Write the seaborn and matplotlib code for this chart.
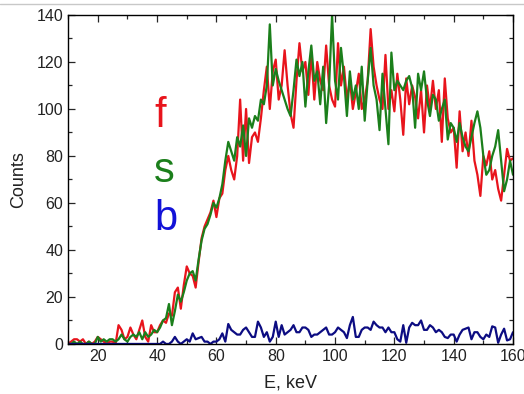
import numpy as np
import pandas as pd
import matplotlib
matplotlib.use("Agg")
import matplotlib.pyplot as plt
from matplotlib.ticker import MultipleLocator
from matplotlib.lines import Line2D
import seaborn as sns

# Energy grid, keV
energy = list(range(10, 161))

# f spectrum (counts)
counts_f = [
    0, 1, 2, 2, 1, 2, 0, 1, 0, 1,            # 10-19
    3, 2, 1, 0, 1, 1, 0, 8, 6, 2,            # 20-29
    3, 7, 4, 2, 6, 10, 3, 1, 8, 5,           # 30-39
    5, 8, 10, 9, 13, 12, 22, 24, 15, 25,     # 40-49
    33, 30, 29, 24, 35, 45, 50, 53, 56, 61,  # 50-59
    54, 62, 64, 74, 80, 74, 70, 80, 104, 78,  # 60-69
    100, 77, 88, 90, 86, 96, 108, 118, 100, 116,  # 70-79
    121, 104, 110, 125, 110, 98, 92, 112, 128, 116,  # 80-89
    120, 106, 124, 104, 120, 112, 108, 127, 110, 104,  # 90-99
    101, 128, 110, 118, 104, 112, 100, 107, 115, 100,  # 100-109
    104, 112, 134, 118, 110, 104, 100, 123, 100, 108,  # 110-119
    99, 115, 104, 89, 113, 102, 110, 105, 96, 108,  # 120-129
    90, 110, 100, 112, 100, 108, 86, 113, 96, 90,  # 130-139
    92, 75, 99, 82, 90, 80, 95, 78, 72, 63,  # 140-149
    80, 76, 82, 70, 74, 66, 61, 72, 83, 78,  # 150-159
    79,                                      # 160
]

# s spectrum (counts)
counts_s = [
    0, 0, 1, 0, 1, 0, 0, 1, 0, 0,            # 10-19
    3, 1, 2, 1, 2, 2, 1, 2, 4, 2,            # 20-29
    1, 3, 4, 3, 5, 2, 5, 3, 4, 6,            # 30-39
    5, 7, 10, 11, 17, 8, 14, 21, 18, 22,     # 40-49
    27, 30, 31, 27, 36, 44, 49, 51, 55, 60,  # 50-59
    58, 62, 68, 78, 86, 82, 78, 88, 84, 93,  # 60-69
    80, 96, 92, 97, 95, 104, 102, 110, 136, 110,  # 70-79
    117, 112, 108, 104, 100, 97, 108, 121, 114, 120,  # 80-89
    101, 116, 127, 112, 116, 102, 118, 94, 110, 140,  # 90-99
    112, 104, 126, 114, 97, 116, 104, 110, 100, 118,  # 100-109
    95, 112, 126, 110, 104, 91, 115, 100, 85, 124,  # 110-119
    108, 112, 110, 108, 112, 114, 109, 92, 115, 108,  # 120-129
    116, 104, 97, 106, 104, 95, 100, 104, 87, 94,  # 130-139
    92, 86, 94, 88, 84, 82, 88, 94, 99, 92,  # 140-149
    80, 72, 74, 80, 84, 91, 78, 65, 70, 78,  # 150-159
    72,                                      # 160
]

# b spectrum (counts)
counts_b = [
    0, 0, 0, 0, 0, 0, 0, 0, 0, 0,            # 10-19
    0, 0, 0, 0, 0, 0, 0, 0, 0, 0,            # 20-29
    0, 0, 0, 0, 0, 0, 0, 0, 0, 0,            # 30-39
    0, 0, 1, 0, 0, 1, 3, 1, 0, 1,            # 40-49
    2, 1, 4.5, 2, 2.5, 3, 1, 1, 0, 1,        # 50-59
    1, 2, 4.5, 1, 8.5, 6, 5, 4, 4, 6,        # 60-69
    7, 5, 3, 3, 9.5, 7, 3, 5, 1, 3,          # 70-79
    9.5, 3, 8, 4, 5, 6, 8, 5, 5, 7,          # 80-89
    7, 6, 3, 4, 4, 5, 6, 7, 4, 4,            # 90-99
    5, 7, 6, 5, 2.5, 8, 11.5, 3, 3, 6,       # 100-109
    7, 7, 6, 9.5, 8, 7, 7, 5, 7, 5,          # 110-119
    5, 2, 1, 8, 0.5, 7, 9, 8, 8, 10,         # 120-129
    6, 6, 8, 7, 5, 6, 5, 3, 2.5, 4,          # 130-139
    4, 1, 4, 6, 6.5, 7, 2, 5, 5, 3,          # 140-149
    2, 4, 3, 7.5, 7, 0.5, 4, 6.5, 1.5, 2,    # 150-159
    5,                                       # 160
]

series_names = ["f", "s", "b"]
line_colors = {"f": "#e8141c", "s": "#1b7f1b", "b": "#0c0c82"}
label_colors = {"f": "#e8141c", "s": "#1b7f1b", "b": "#1212d8"}

df = pd.concat([
    pd.DataFrame({"E": energy, "Counts": counts_f, "spectrum": "f"}),
    pd.DataFrame({"E": energy, "Counts": counts_s, "spectrum": "s"}),
    pd.DataFrame({"E": energy, "Counts": counts_b, "spectrum": "b"}),
], ignore_index=True)

sns.set_style("ticks")
plt.rcParams["font.family"] = ["Liberation Sans", "DejaVu Sans"]

fig = plt.figure(figsize=(5.24, 3.94), dpi=100)
ax = fig.add_axes([0.130, 0.127, 0.849, 0.835])

sns.lineplot(data=df, x="E", y="Counts", hue="spectrum", hue_order=series_names,
             palette=line_colors, linewidth=1.6, legend=False, ax=ax,
             estimator=None, sort=False)

ax.set_xlim(10, 160)
ax.set_ylim(0, 140)
ax.xaxis.set_major_locator(MultipleLocator(20))
ax.xaxis.set_minor_locator(MultipleLocator(10))
ax.yaxis.set_major_locator(MultipleLocator(20))
ax.yaxis.set_minor_locator(MultipleLocator(10))
ax.tick_params(which="both", direction="in", top=True, right=True,
               labelsize=11.5, labelcolor="#222222", width=0.9)
ax.tick_params(which="major", length=5)
ax.tick_params(which="minor", length=3)
for sp in ax.spines.values():
    sp.set_visible(True)
    sp.set_linewidth(1.0)
    sp.set_color("black")

ax.set_xlabel("E, keV", fontsize=13, color="#222222", labelpad=8)
ax.set_ylabel("Counts", fontsize=13, color="#222222", labelpad=7)

# Series labels
label_pos = {"f": 92.5, "s": 69, "b": 48.5}
for name in series_names:
    ax.text(39, label_pos[name], name, color=label_colors[name], fontsize=30,
            ha="left", va="baseline")

# thin rule above the plot
fig.add_artist(Line2D([0, 1], [0.989, 0.989], color="#c8c8c8", linewidth=1.0,
                      transform=fig.transFigure))

fig.savefig("out.png", dpi=100)
